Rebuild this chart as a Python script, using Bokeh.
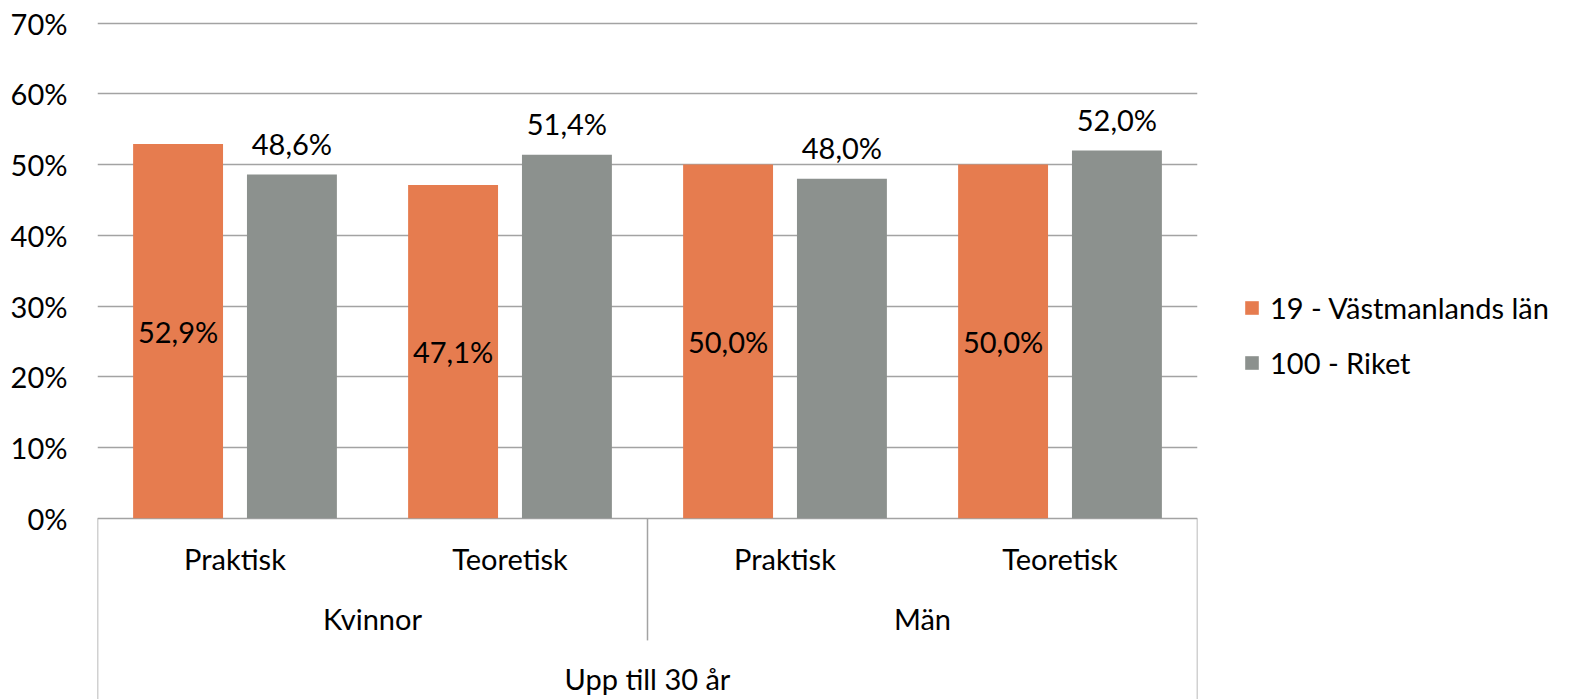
from bokeh.plotting import figure
from bokeh.models import (ColumnDataSource, Range1d, FixedTicker, PrintfTickFormatter,
                          Legend, LegendItem)
from bokeh.core.properties import value
from bokeh.embed import file_html
from bokeh.resources import INLINE

# ---- data ----
top_group = "Upp till 30 år"
genders = ["Kvinnor", "Män"]
types = ["Praktisk", "Teoretisk"]
series_names = ["19 - Västmanlands län", "100 - Riket"]
lan = [52.9, 47.1, 50.0, 50.0]
riket = [48.6, 51.4, 48.0, 52.0]
y_ticks = [0, 10, 20, 30, 40, 50, 60, 70]

FONT = "Lato"
FS = "29px"
ORANGE = "#E67C4F"
GRAY = "#8C918E"
LINE = "#A3A3A3"

n = len(genders) * len(types)
centers = [i + 0.5 for i in range(n)]
sub_labels = [t for g in genders for t in types]
off = 0.207
bw = 0.327

def fmt(v):
    return f"{v:.1f}".replace(".", ",") + "%"

src_l = ColumnDataSource(dict(x=[c - off for c in centers], top=lan,
                              mid=[v / 2 for v in lan], lab=[fmt(v) for v in lan]))
src_r = ColumnDataSource(dict(x=[c + off for c in centers], top=riket,
                              lab=[fmt(v) for v in riket]))

Y0, Y1 = -25.6, 70.5
p = figure(frame_width=1100, frame_height=680, output_backend="svg", toolbar_location=None,
           x_range=Range1d(0, n), y_range=Range1d(Y0, Y1),
           x_axis_location=None, min_border_left=97, min_border_right=374,
           min_border_top=19, min_border_bottom=0)
p.outline_line_color = None
p.xgrid.visible = False
p.ygrid.grid_line_color = LINE
p.ygrid.grid_line_width = 1.5

ya = p.yaxis[0]
ya.ticker = FixedTicker(ticks=y_ticks)
ya.formatter = PrintfTickFormatter(format="%d%%")
ya.axis_line_color = None
ya.major_tick_line_color = None
ya.minor_tick_line_color = None
ya.major_tick_out = 0
ya.major_tick_in = 0
ya.major_label_standoff = 30
ya.major_label_text_font = FONT
ya.major_label_text_font_size = FS
ya.major_label_text_color = "#000000"

r1 = p.vbar(x="x", top="top", bottom=0, width=bw, source=src_l, color=ORANGE, line_color=None)
r2 = p.vbar(x="x", top="top", bottom=0, width=bw, source=src_r, color=GRAY, line_color=None)

p.text(x="x", y="mid", text="lab", source=src_l, text_font=value(FONT), text_font_size=FS,
       text_align="center", text_baseline="middle", text_color="#000000")
p.text(x="x", y="top", text="lab", source=src_r, text_font=value(FONT), text_font_size=FS,
       text_align="center", text_baseline="alphabetic", y_offset=-31, text_color="#000000")

# category axis (drawn inside the extended frame)
y_sub, y_gen, y_top = -5.7, -14.14, -22.6
p.text(x=centers, y=[y_sub] * n, text=sub_labels, text_font=value(FONT), text_font_size=FS,
       text_align="center", text_baseline="middle", text_color="#000000")
gcent = [len(types) * (i + 0.5) for i in range(len(genders))]
p.text(x=gcent, y=[y_gen] * len(genders), text=genders, text_font=value(FONT), text_font_size=FS,
       text_align="center", text_baseline="middle", text_color="#000000")
p.text(x=[n / 2], y=[y_top], text=[top_group], text_font=value(FONT), text_font_size=FS,
       text_align="center", text_baseline="middle", text_color="#000000")

outer = [0, n]
inner = [len(types) * (i + 1) for i in range(len(genders) - 1)]
p.segment(x0=outer, y0=[0, 0], x1=outer, y1=[Y0, Y0], line_color=LINE, line_width=1.5)
p.segment(x0=inner, y0=[0] * len(inner), x1=inner, y1=[-17.25] * len(inner),
          line_color=LINE, line_width=1.5)

legend = Legend(items=[LegendItem(label=series_names[0], renderers=[r1]),
                       LegendItem(label=series_names[1], renderers=[r2])],
                location=(46, 319), orientation="vertical",
                glyph_width=17, glyph_height=17, label_height=35, spacing=20,
                label_standoff=10, padding=0, margin=0,
                label_text_font=FONT, label_text_font_size=FS, label_text_color="#000000",
                border_line_color=None, background_fill_alpha=0)
p.add_layout(legend, "right")

open("out.html", "w").write(file_html(p, INLINE))
